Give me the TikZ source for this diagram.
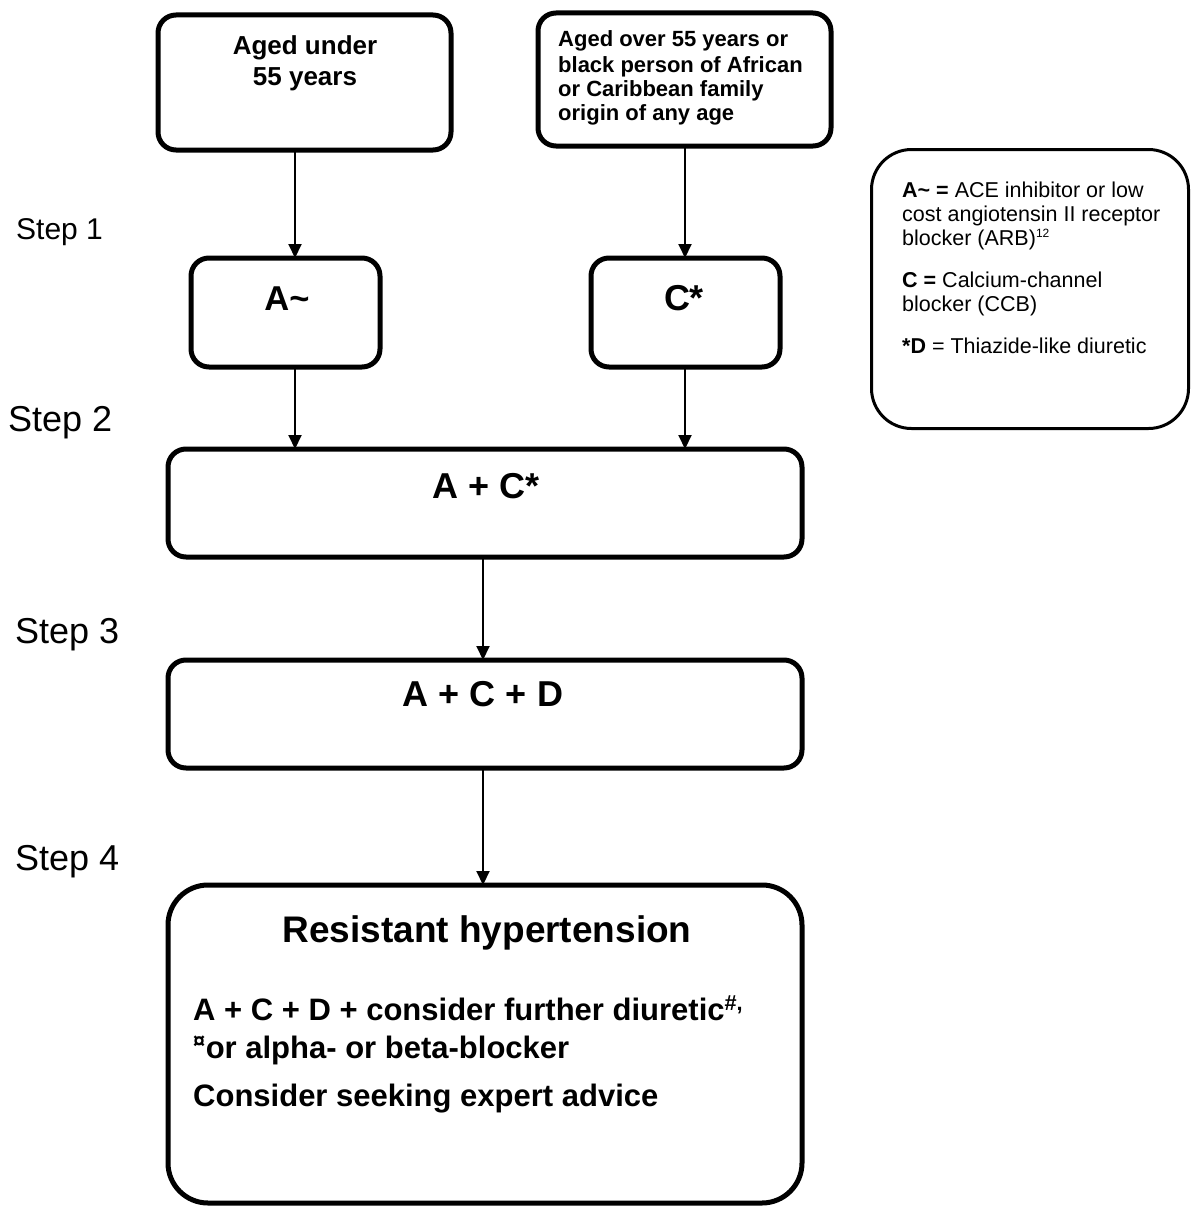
\documentclass[tikz,border=0pt]{standalone}
\usepackage{fontspec}
\setmainfont{Liberation Sans}
\usetikzlibrary{arrows.meta}
\begin{document}
\begin{tikzpicture}[x=1pt,y=-1pt,
  box/.style={draw, line width=5pt, rounded corners=18pt, inner sep=0pt, outer sep=0pt},
  bigbox/.style={box, rounded corners=40pt},
  legendbox/.style={draw, line width=3pt, rounded corners=40pt, inner sep=0pt, outer sep=0pt},
  conn/.style={line width=2pt, -{Triangle[length=14pt,width=13pt]}},
  steplbl/.style={anchor=base west, inner sep=0pt},
  txt/.style={inner sep=0pt, anchor=base},
  txtw/.style={inner sep=0pt, anchor=base west},
  fbox/.style={font=\bfseries\fontsize{36}{40}\selectfont},
  ftop/.style={font=\bfseries\fontsize{26}{30}\selectfont},
  ftopr/.style={font=\bfseries\fontsize{22}{26}\selectfont},
  fleg/.style={font=\fontsize{21.5}{24}\selectfont},
  fres/.style={font=\bfseries\fontsize{31}{38}\selectfont},
]
\useasboundingbox (0,0) rectangle (1192,1207);

% boxes
\node[box, minimum width=293pt, minimum height=135pt] (b1) at (304.5,82.5) {};
\node[box, minimum width=293pt, minimum height=133pt] (b2) at (684.5,79.5) {};
\node[legendbox, minimum width=317pt, minimum height=279pt] (leg) at (1030,289) {};
\node[box, minimum width=189pt, minimum height=109pt] (a) at (285.5,312.5) {};
\node[box, minimum width=189pt, minimum height=109pt] (c) at (685.5,312.5) {};
\node[box, minimum width=634pt, minimum height=108pt] (ac) at (485,503) {};
\node[box, minimum width=634pt, minimum height=108pt] (acd) at (485,714) {};
\node[bigbox, minimum width=634pt, minimum height=318pt] (res) at (485,1044) {};

% top-left box text
\node[txt, ftop] (t1a) at (305,55) {Aged under};
\node[txt, ftop] (t1b) at (305,85) {55 years};
% top-right box text
\node[txtw, ftopr] (t2a) at (558,47) {Aged over 55 years or};
\node[txtw, ftopr] (t2b) at (558,72) {black person of African};
\node[txtw, ftopr] (t2c) at (558,96) {or Caribbean family};
\node[txtw, ftopr] (t2d) at (558,120) {origin of any age};

% step 1 / step 2 / step 3 boxes
\node[txt, font=\bfseries\fontsize{34.5}{40}\selectfont] (ta) at (287,310) {A\textasciitilde};
\node[txt, fbox] (tc) at (684,310) {C*};
\node[txt, fbox] (tac) at (486,498) {A + C*};
\node[txt, fbox] (tacd) at (483,706) {A + C + D};

% step 4 box
\node[txt, font=\bfseries\fontsize{37}{42}\selectfont] (tres) at (487,942) {Resistant hypertension};
\node[txtw, fres] (tr1) at (193,1020) {A + C + D + consider further diuretic\textsuperscript{\#,}};
\node[txtw, fres] (tr2) at (193,1058) {\textsuperscript{¤}or alpha- or beta-blocker};
\node[txtw, fres] (tr3) at (193,1106) {Consider seeking expert advice};

% legend
\node[txtw, fleg] (l1) at (902,197) {\textbf{A\textasciitilde\ =} ACE inhibitor or low};
\node[txtw, fleg] (l2) at (902,221) {cost angiotensin II receptor};
\node[txtw, fleg] (l3) at (902,245) {blocker (ARB)\textsuperscript{\fontsize{12}{12}\selectfont 12}};
\node[txtw, fleg] (l4) at (902,287) {\textbf{C =} Calcium-channel};
\node[txtw, fleg] (l5) at (902,311) {blocker (CCB)};
\node[txtw, fleg] (l6) at (902,353) {\textbf{*D} = Thiazide-like diuretic};

% step labels
\node[steplbl, font=\fontsize{30}{36}\selectfont] (s1) at (16,239) {Step 1};
\node[steplbl, font=\fontsize{36}{40}\selectfont] (s2) at (8,431) {Step 2};
\node[steplbl, font=\fontsize{36}{40}\selectfont] (s3) at (15,643) {Step 3};
\node[steplbl, font=\fontsize{36}{40}\selectfont] (s4) at (15,870) {Step 4};

% connectors
\draw[conn] (b1.south -| 295,0) -- (a.north -| 295,0);
\draw[conn] (b2.south -| 685,0) -- (c.north -| 685,0);
\draw[conn] (a.south -| 295,0) -- (ac.north -| 295,0);
\draw[conn] (c.south -| 685,0) -- (ac.north -| 685,0);
\draw[conn] (ac.south -| 483,0) -- (acd.north -| 483,0);
\draw[conn] (acd.south -| 483,0) -- (res.north -| 483,0);
\end{tikzpicture}
\end{document}
